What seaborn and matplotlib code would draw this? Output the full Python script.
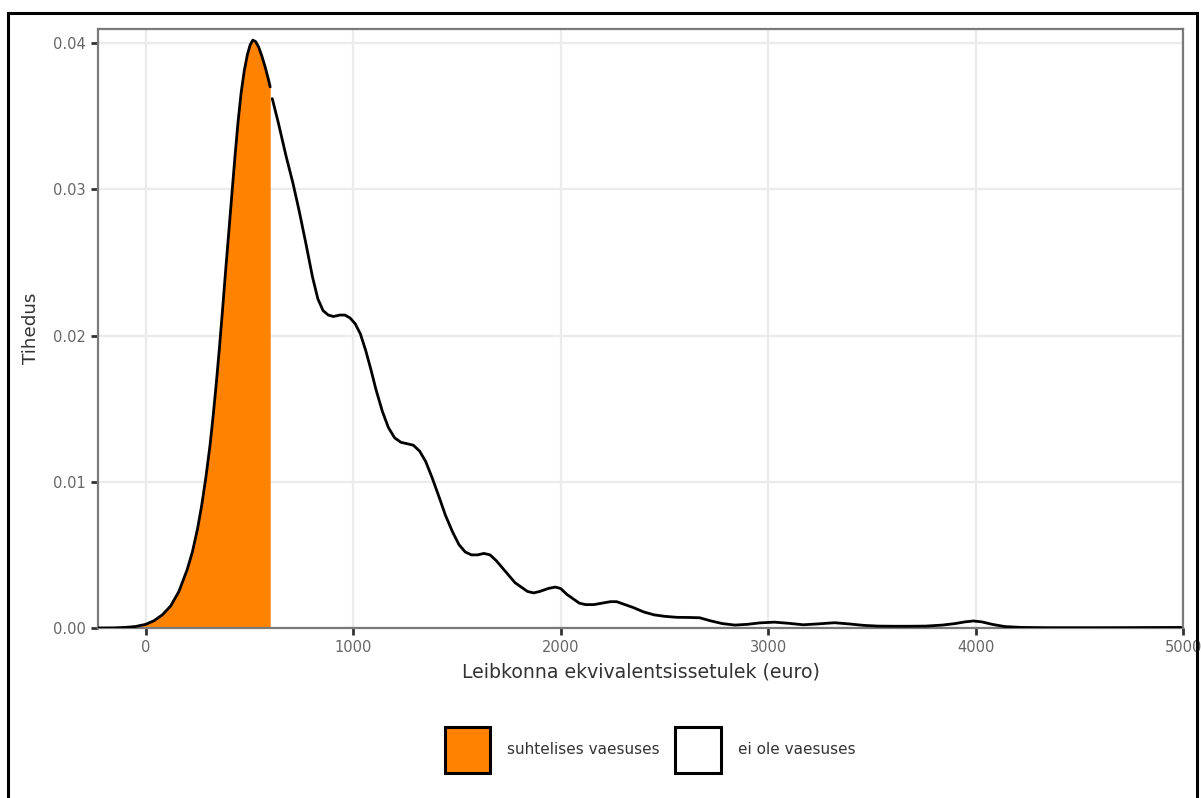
import matplotlib
matplotlib.use("Agg")
import matplotlib.pyplot as plt
from matplotlib.patches import Patch, Rectangle
import numpy as np
import pandas as pd
import seaborn as sns

# Household equivalised income (euro) and its estimated density
income = [-230, -150, -100, -50, 0, 40, 80, 120, 160, 200, 225, 250, 270, 290,
          310, 325, 340, 355, 370, 385, 400, 415, 430, 445, 460, 475, 490, 503,
          516, 530, 545, 560, 575, 590, 600,
          610, 640, 676, 710, 740, 772, 804, 830, 855, 880, 905, 935, 960, 985,
          1010, 1035, 1060, 1085, 1110, 1141, 1170, 1200, 1230, 1260, 1290, 1320,
          1349, 1380, 1413, 1445, 1478, 1510, 1540, 1570, 1600, 1630, 1660, 1690,
          1720, 1750, 1780, 1810, 1840, 1870, 1900, 1940, 1974, 2000, 2030, 2060,
          2090, 2120, 2160, 2200, 2240, 2270, 2310, 2350, 2400, 2450, 2500, 2560,
          2620, 2670, 2720, 2780, 2840, 2900, 2960, 3030, 3100, 3170, 3240, 3320,
          3390, 3460, 3530, 3600, 3680, 3760, 3840, 3900, 3950, 3990, 4030, 4080,
          4140, 4220, 4350, 4600, 4800, 4990]
density = [0.0, 0.00001, 0.00004, 0.0001, 0.00025, 0.0005, 0.0009, 0.0015, 0.0025,
           0.0040, 0.0052, 0.0068, 0.0084, 0.0103, 0.0125, 0.0145, 0.0167, 0.0191,
           0.0217, 0.0244, 0.0270, 0.0296, 0.0322, 0.0346, 0.0366, 0.0381, 0.0392,
           0.03985, 0.0402, 0.0401, 0.0397, 0.0391, 0.0384, 0.0376, 0.0370,
           0.0362, 0.0345, 0.0323, 0.0304, 0.0285, 0.0263, 0.0240, 0.0225, 0.0217,
           0.0214, 0.0213, 0.0214, 0.0214, 0.0212, 0.0208, 0.0201, 0.0190, 0.0177,
           0.0163, 0.0148, 0.0137, 0.0130, 0.0127, 0.0126, 0.0125, 0.0121, 0.0114,
           0.0103, 0.0090, 0.0077, 0.0066, 0.0057, 0.0052, 0.0050, 0.0050, 0.0051,
           0.0050, 0.0046, 0.0041, 0.0036, 0.0031, 0.0028, 0.0025, 0.0024, 0.0025,
           0.0027, 0.0028, 0.0027, 0.0023, 0.0020, 0.0017, 0.0016, 0.0016, 0.0017,
           0.0018, 0.0018, 0.0016, 0.0014, 0.0011, 0.0009, 0.0008, 0.00073, 0.00072,
           0.0007, 0.0005, 0.0003, 0.0002, 0.00025, 0.00035, 0.0004, 0.00032,
           0.00022, 0.00028, 0.00036, 0.00028, 0.00018, 0.00013, 0.00012, 0.00012,
           0.00013, 0.0002, 0.0003, 0.00042, 0.00048, 0.00042, 0.00025, 0.0001,
           0.00004, 0.00002, 0.00002, 0.00003, 0.00004]

poverty_line = 600
group_labels = ["suhtelises vaesuses", "ei ole vaesuses"]
group_colors = ["#FF8300", "#FFFFFF"]
x_ticks = [0, 1000, 2000, 3000, 4000, 5000]
y_ticks = [0.00, 0.01, 0.02, 0.03, 0.04]
x_title = "Leibkonna ekvivalentsissetulek (euro)"
y_title = "Tihedus"

df = pd.DataFrame({"income": income, "density": density})
df["group"] = np.where(df["income"] <= poverty_line, group_labels[0], group_labels[1])
poor = df[df["group"] == group_labels[0]]
rest = df[df["group"] == group_labels[1]]

sns.set_theme(style="whitegrid")
plt.rcParams["font.family"] = ["DejaVu Sans"]

fig = plt.figure(figsize=(12.01, 7.98), dpi=100)
ax = fig.add_axes([98 / 1201, 1 - 628 / 798, (1183 - 98) / 1201, (628 - 29) / 798])

# shaded area below the poverty line
ax.fill_between(poor["income"], 0, poor["density"], color=group_colors[0],
                linewidth=0, zorder=2)
sns.lineplot(data=poor, x="income", y="density", color="black", linewidth=2.0,
             ax=ax, zorder=3)
sns.lineplot(data=rest, x="income", y="density", color="black", linewidth=2.0,
             ax=ax, zorder=3)

ax.set_xlim(-230, 4990)
ax.set_ylim(0, 0.04096)
ax.set_xticks(x_ticks)
ax.set_yticks(y_ticks)
ax.set_yticklabels([f"{v:.2f}" for v in y_ticks])
ax.grid(True, color="#EBEBEB", linewidth=1.6)
ax.set_axisbelow(True)
for s in ax.spines.values():
    s.set_color("#7A7A7A")
    s.set_linewidth(1.6)
ax.tick_params(axis="both", length=5, width=2, color="#333333",
               labelcolor="#666666", labelsize=10.5, pad=4, direction="out")
ax.tick_params(axis="x", bottom=True)
ax.tick_params(axis="y", left=True)
ax.set_xlabel(x_title, fontsize=13.6, color="#333333", labelpad=5)
ax.set_ylabel(y_title, fontsize=13.2, color="#333333", labelpad=9)

handles = [Patch(facecolor=c, edgecolor="black", linewidth=2.2) for c in group_colors]
fig.legend(handles, group_labels, loc="center", bbox_to_anchor=(650 / 1201, 1 - 750 / 798),
           ncol=2, frameon=False, fontsize=11, handlelength=3.0, handleheight=4.3,
           handletextpad=1.1, columnspacing=1.0, labelcolor="#333333")

# outer frame around the figure
fig.patches.append(Rectangle((8 / 1201, -0.05), (1197 - 8) / 1201, 1.05 - 13 / 798,
                             transform=fig.transFigure, fill=False,
                             edgecolor="black", linewidth=2.2, zorder=10))

fig.savefig("out.png", dpi=100, facecolor="white")
